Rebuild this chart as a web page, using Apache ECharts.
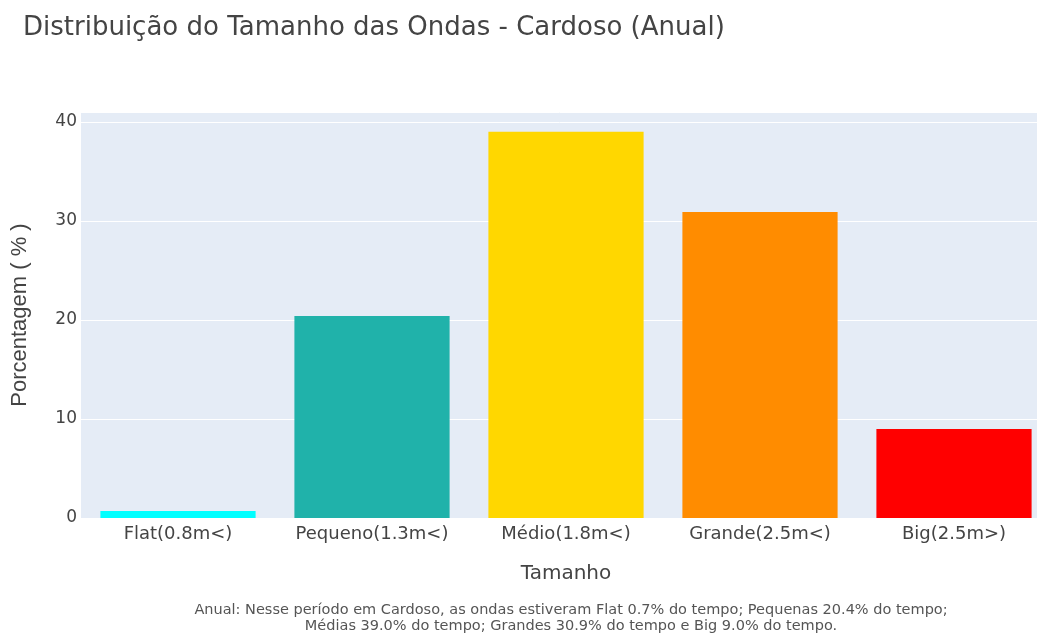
<!DOCTYPE html>
<html>
<head>
<meta charset="utf-8">
<script src="https://cdn.jsdelivr.net/npm/echarts@6/dist/echarts.min.js"></script>
<style>
  html, body { margin: 0; padding: 0; background: #fff; }
  #chart { width: 1037px; height: 637px; }
</style>
</head>
<body>
<div id="chart"></div>
<script>
// dados
const categorias = ['Flat(0.8m<)', 'Pequeno(1.3m<)', 'Médio(1.8m<)', 'Grande(2.5m<)', 'Big(2.5m>)'];
const porcentagens = [0.7, 20.4, 39.0, 30.9, 9.0];
const cores = ['#00FFFF', '#20B2AA', '#FFD700', '#FF8C00', '#FF0000'];
const yTicks = [0, 10, 20, 30, 40];

const fonte = '"DejaVu Sans", sans-serif';
const nota = 'Anual: Nesse período em Cardoso, as ondas estiveram Flat 0.7% do tempo; Pequenas 20.4% do tempo;\n' +
  'Médias 39.0% do tempo; Grandes 30.9% do tempo e Big 9.0% do tempo.';

const chart = echarts.init(document.getElementById('chart'));

const option = {
  animation: false,
  textStyle: { fontFamily: fonte, color: '#444' },
  title: [
    {
      text: 'Distribuição do Tamanho das Ondas - Cardoso (Anual)',
      left: 18,
      top: 10,
      textStyle: { fontSize: 26, fontWeight: 'normal', color: '#444', fontFamily: fonte }
    },
    {
      text: nota,
      left: 566,
      top: 597,
      textAlign: 'center',
      textStyle: { fontSize: 14.5, fontWeight: 'normal', color: '#555', lineHeight: 16, fontFamily: fonte }
    }
  ],
  grid: {
    left: 81,
    width: 970,
    top: 112,
    bottom: 119,
    outerBoundsMode: 'none',
    containLabel: false,
    backgroundColor: '#E5ECF6',
    show: true,
    borderWidth: 0
  },
  xAxis: {
    type: 'category',
    data: categorias,
    name: 'Tamanho',
    nameLocation: 'middle',
    nameGap: 46,
    nameTextStyle: { fontSize: 20, color: '#444', fontFamily: fonte },
    axisLine: { show: false },
    axisTick: { show: false },
    axisLabel: { interval: 0, hideOverlap: false, fontSize: 18, color: '#444', margin: 7, fontFamily: fonte }
  },
  yAxis: {
    type: 'value',
    min: 0,
    max: 41,
    interval: 10,
    name: 'Porcentagem ( % )',
    nameLocation: 'middle',
    nameGap: 50,
    nameTextStyle: { fontSize: 22, color: '#444', fontFamily: '"Liberation Sans", Arial, sans-serif' },
    axisLine: { show: false },
    axisTick: { show: false },
    axisLabel: {
      fontSize: 17,
      color: '#444',
      margin: 4,
      fontFamily: fonte,
      formatter: v => (yTicks.includes(v) ? String(v) : '')
    },
    splitLine: { lineStyle: { color: '#fff', width: 1 } }
  },
  series: [
    {
      type: 'bar',
      barWidth: '80%',
      data: porcentagens.map((v, i) => ({ value: v, itemStyle: { color: cores[i] } }))
    }
  ]
};

chart.setOption(option);
</script>
</body>
</html>
